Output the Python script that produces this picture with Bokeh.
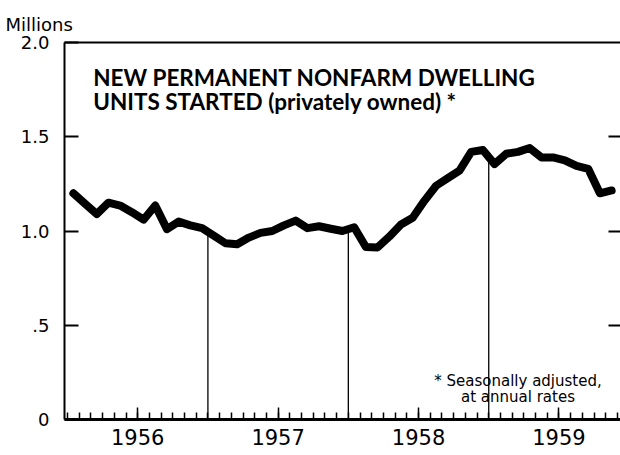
from bokeh.plotting import figure
from bokeh.models import Range1d, LinearAxis, FixedTicker, Label
from bokeh.embed import file_html
from bokeh.resources import INLINE
import numpy as np

# ---- data ----
years = ["1956", "1957", "1958", "1959"]
# monthly starts, millions of units, Jan 1956 .. Nov 1959
starts = [1.20, 1.145, 1.09, 1.15, 1.135, 1.10, 1.06, 1.135, 1.01, 1.05, 1.03, 1.015,
          0.975, 0.935, 0.93, 0.965, 0.99, 1.00, 1.03, 1.055, 1.015, 1.025, 1.012, 1.00,
          1.02, 0.915, 0.913, 0.97, 1.035, 1.07, 1.16, 1.24, 1.28, 1.32, 1.42, 1.43,
          1.355, 1.41, 1.42, 1.44, 1.39, 1.39, 1.375, 1.345, 1.33, 1.20, 1.215]
y_ticks = [0, 0.5, 1.0, 1.5, 2.0]
y_tick_labels = ["0", ".5", "1.0", "1.5", "2.0"]

months = np.arange(len(starts)) + 0.5
year_mid = [12 * k + 6 for k in range(len(years))]
boundaries = [12, 24, 36]
boundary_tops = [(starts[b - 1] + starts[b]) / 2 for b in boundaries]

NUM_FONT = "DejaVu Sans"
TITLE_FONT = "Lato"

p = figure(width=620, height=455, output_backend="svg", toolbar_location=None,
           x_range=Range1d(-0.256, 47.26), y_range=Range1d(0, 2.0),
           min_border_left=64, min_border_top=42, min_border_bottom=36, min_border_right=0,
           x_axis_location=None, y_axis_location=None)
p.outline_line_color = None
p.xgrid.visible = False
p.ygrid.visible = False
p.background_fill_color = "white"

# "Millions" as the plot title, pulled to the left edge
p.title.text = "Millions"
p.title.align = "left"
p.title.offset = -59
p.title.text_font = NUM_FONT
p.title.text_font_size = "18px"
p.title.text_font_style = "normal"
p.title.text_color = "black"
p.title.standoff = 15

# left axis
ya = LinearAxis(ticker=FixedTicker(ticks=y_ticks),
                major_label_overrides={t: l for t, l in zip(y_ticks, y_tick_labels)})
ya.axis_line_width = 2
ya.major_tick_in = 14
ya.major_tick_out = 0
ya.major_tick_line_width = 2
ya.minor_tick_line_color = None
ya.major_label_standoff = 15
ya.major_label_text_font = NUM_FONT
ya.major_label_text_font_size = "18px"
ya.major_label_text_color = "black"
p.add_layout(ya, "left")

# right ticks (no line, no labels)
ra = LinearAxis(ticker=FixedTicker(ticks=[0.5, 1.0, 1.5]))
ra.axis_line_color = None
ra.major_tick_in = 12
ra.major_tick_out = 0
ra.major_tick_line_width = 2
ra.minor_tick_line_color = None
ra.major_label_text_color = None
ra.major_label_standoff = 0
p.add_layout(ra, "right")

# top frame line
ta = LinearAxis(ticker=FixedTicker(ticks=[]))
ta.axis_line_width = 2
ta.major_tick_line_color = None
ta.minor_tick_line_color = None
ta.major_label_text_color = None
p.add_layout(ta, "above")

# bottom axis: monthly minor ticks, long tick mid-year labelled with year
xa = LinearAxis(ticker=FixedTicker(ticks=year_mid, minor_ticks=list(range(0, 48))),
                major_label_overrides={m: y for m, y in zip(year_mid, years)})
xa.axis_line_width = 3
xa.major_tick_in = 12
xa.major_tick_out = 0
xa.major_tick_line_width = 1.5
xa.minor_tick_in = 7
xa.minor_tick_out = 0
xa.minor_tick_line_width = 1.5
xa.major_label_standoff = 9
xa.major_label_text_font = NUM_FONT
xa.major_label_text_font_size = "21px"
xa.major_label_text_color = "black"
p.add_layout(xa, "below")

# vertical year-boundary lines
p.segment(x0=boundaries, y0=[0] * len(boundaries), x1=boundaries, y1=boundary_tops,
          line_color="black", line_width=1.3)

# the series
p.line(months, starts, line_color="black", line_width=8,
       line_join="round", line_cap="round")

# texts
p.add_layout(Label(x=2.2, y=1.816, text="NEW PERMANENT NONFARM DWELLING",
                   text_font=TITLE_FONT, text_font_style="bold", text_font_size="22.5px",
                   text_baseline="alphabetic", text_color="black"))
p.add_layout(Label(x=2.2, y=1.689, text="UNITS STARTED (privately owned) *",
                   text_font=TITLE_FONT, text_font_style="bold", text_font_size="22.5px",
                   text_baseline="alphabetic", text_color="black"))
p.add_layout(Label(x=38.5, y=0.202, text="* Seasonally adjusted,",
                   text_font=NUM_FONT, text_font_size="15px", text_align="center",
                   text_baseline="alphabetic", text_color="black"))
p.add_layout(Label(x=38.5, y=0.122, text="at annual rates",
                   text_font=NUM_FONT, text_font_size="15px", text_align="center",
                   text_baseline="alphabetic", text_color="black"))

open("out.html", "w").write(file_html(p, INLINE))
